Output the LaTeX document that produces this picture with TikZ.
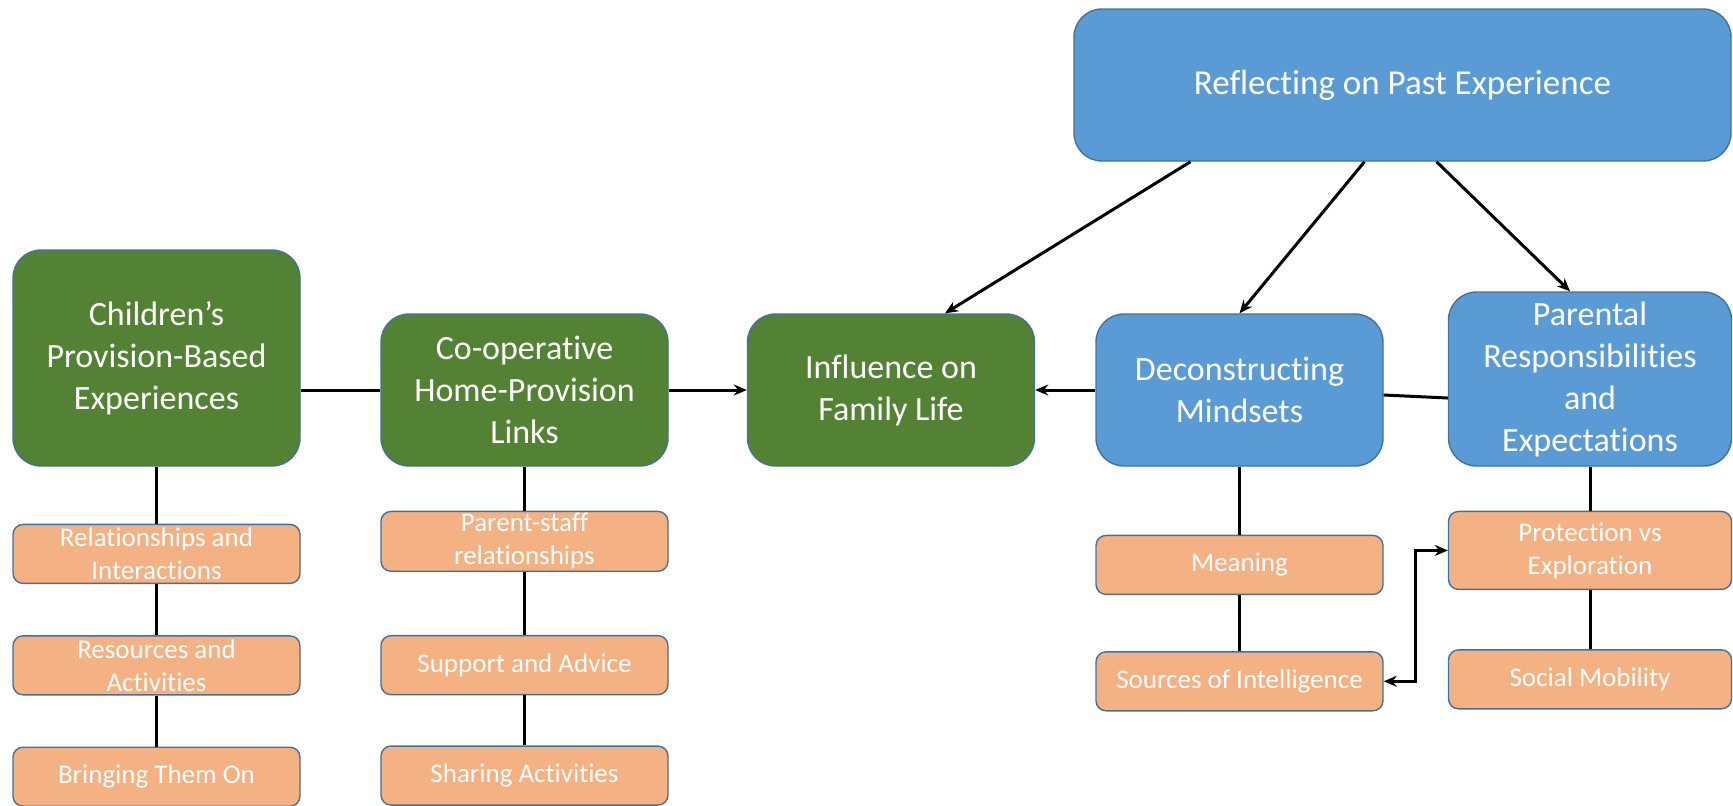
\documentclass[tikz,border=0pt]{standalone}
\usepackage{fontspec}
\setmainfont{Carlito}[Ligatures=NoCommon]
\usetikzlibrary{arrows.meta, positioning}
\definecolor{themegreen}{HTML}{548235}
\definecolor{themeblue}{HTML}{5B9BD5}
\definecolor{themeorange}{HTML}{F4B183}
\definecolor{boxborder}{HTML}{41719C}

\begin{document}
\begin{tikzpicture}[
    x=0.5pt, y=-0.5pt,
    >={Stealth[length=6.5pt, width=5.5pt]},
    every node/.style={text=white, align=center},
    box/.style={rectangle, draw=boxborder, line width=0.7pt, rounded corners=14pt, minimum width=143.5pt, minimum height=76pt, inner sep=2pt, font=\fontsize{17}{21}\selectfont},
    greenbox/.style={box, fill=themegreen},
    bluebox/.style={box, fill=themeblue},
    subbox/.style={rectangle, draw=boxborder, line width=0.7pt, fill=themeorange, rounded corners=5pt, minimum width=143.5pt, minimum height=29.5pt, inner sep=1pt, font=\fontsize{13.5}{16.5}\selectfont},
    link/.style={line width=1.5pt}
  ]

  \useasboundingbox (0,0) rectangle (1733,805);

  \node[greenbox, minimum height=108pt] (children) at (156.5,358) {Children’s\\Provision-Based\\Experiences};
  \node[greenbox] (coop) at (524.5,390) {Co-operative\\Home-Provision\\Links};
  \node[greenbox] (influence) at (891,390) {Influence on\\Family Life};
  \node[bluebox] (decon) at (1239.5,390) {Deconstructing\\Mindsets};
  \node[bluebox, minimum width=141.5pt, minimum height=87pt] (parental) at (1590,379) {Parental\\Responsibilities\\and\\Expectations};
  \node[bluebox, minimum width=328.5pt, font=\fontsize{17.5}{21}\selectfont] (reflect) at (1402.5,85) {Reflecting on Past Experience};

  \node[subbox, below=28.5pt of children] (relations) {Relationships and\\Interactions};
  \node[subbox, below=25.5pt of relations] (resources) {Resources and\\Activities};
  \node[subbox, below=25.5pt of resources] (bringing) {Bringing Them On};

  \node[subbox, below=22pt of coop] (parentstaff) {Parent-staff\\relationships};
  \node[subbox, below=31.5pt of parentstaff] (support) {Support and Advice};
  \node[subbox, below=25pt of support] (sharing) {Sharing Activities};

  \node[subbox, below=34pt of decon] (meaning) {Meaning};
  \node[subbox, below=28pt of meaning] (sources) {Sources of Intelligence};

  \node[subbox, minimum width=141.5pt, minimum height=39pt, below=22pt of parental] (protection) {Protection vs\\Exploration};
  \node[subbox, minimum width=141.5pt, below=29.5pt of protection] (mobility) {Social Mobility};

  \draw[link] (children.south) -- (relations.north);
  \draw[link] (relations.south) -- (resources.north);
  \draw[link] (resources.south) -- (bringing.north);
  \draw[link] (coop.south) -- (parentstaff.north);
  \draw[link] (parentstaff.south) -- (support.north);
  \draw[link] (support.south) -- (sharing.north);
  \draw[link] (decon.south) -- (meaning.north);
  \draw[link] (meaning.south) -- (sources.north);
  \draw[link] (parental.south) -- (protection.north);
  \draw[link] (protection.south) -- (mobility.north);

  \draw[link] (coop.west) -- (coop.west -| children.east);
  \draw[link, ->] (coop.east) -- (influence.west);
  \draw[link, ->] (decon.west) -- (influence.east);
  \draw[link] ([yshift=-2.5pt]decon.east) -- ([yshift=-9.5pt]parental.west);

  \draw[link, ->] ([xshift=-106pt]reflect.south) -- ([xshift=27pt]influence.north);
  \draw[link, ->] ([xshift=-19pt]reflect.south) -- (decon.north);
  \draw[link, ->] ([xshift=17pt]reflect.south) -- ([xshift=-10pt]parental.north);

  \draw[link, <->] (sources.east) -- ++(16pt,0) |- (protection.west);

\end{tikzpicture}
\end{document}
